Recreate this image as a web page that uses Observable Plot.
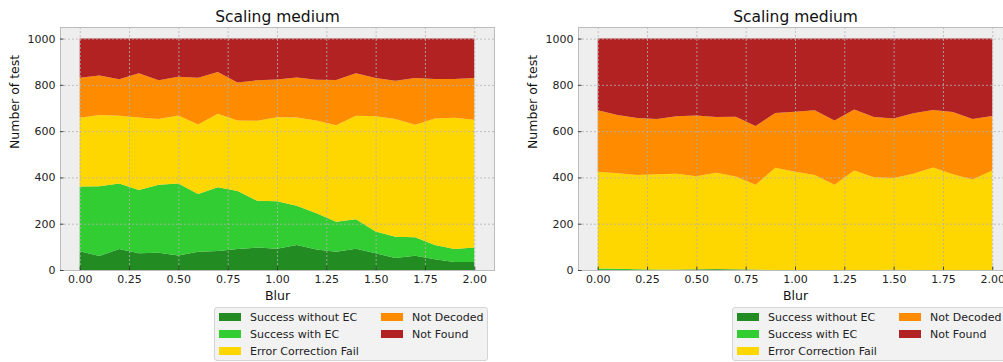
<!DOCTYPE html>
<html>
<head>
<meta charset="utf-8">
<script src="https://cdn.jsdelivr.net/npm/d3@7"></script>
<script src="https://cdn.jsdelivr.net/npm/@observablehq/plot@0.6"></script>
<style>
  html, body { margin: 0; padding: 0; background: #fff; width: 1003px; height: 362px; overflow: hidden; font-family: "DejaVu Sans", sans-serif; }
  #fig { position: relative; width: 1003px; height: 362px; overflow: hidden; }
  .panel { position: absolute; top: 0; }
  .legend { position: absolute; top: 307px; width: 274px; height: 54px; box-sizing: border-box;
            background: #f2f2f2; border: 1px solid #d4d4d4; border-radius: 3px; font-size: 11px; color: #222; }
  .item { position: absolute; display: flex; align-items: center; height: 14px; white-space: nowrap; }
  .swatch { width: 22px; height: 8px; margin-right: 9px; flex: none; }
</style>
</head>
<body>
<div id="fig"></div>
<script>
// Blur levels tested
const blur = [0.0, 0.1, 0.2, 0.3, 0.4, 0.5, 0.6, 0.7, 0.8, 0.9, 1.0,
              1.1, 1.2, 1.3, 1.4, 1.5, 1.6, 1.7, 1.8, 1.9, 2.0];

// Outcome categories, stacked bottom to top
const outcomes = ["Success without EC", "Success with EC", "Error Correction Fail", "Not Decoded", "Not Found"];
const outcomeColors = ["#228b22", "#32cd32", "#ffd700", "#ff8c00", "#b22222"];

// Axis ticks
const xTicks = [0, 0.25, 0.5, 0.75, 1.0, 1.25, 1.5, 1.75, 2.0];
const yTicks = [0, 200, 400, 600, 800, 1000];

const chartTitle = "Scaling medium";
const xLabel = "Blur";
const yLabel = "Number of test";

// Left run: counts per outcome (1000 tests per blur level)
const leftSuccessNoEC = [81, 61, 91, 72, 75, 63, 79, 82, 91, 97, 92, 108, 89, 79, 92, 72, 52, 62, 46, 35, 35];
const leftSuccessEC   = [280, 301, 283, 274, 293, 311, 249, 276, 250, 202, 205, 170, 156, 130, 127, 94, 92, 79, 62, 56, 62];
const leftECFail      = [297, 308, 293, 313, 284, 294, 301, 317, 305, 346, 363, 381, 401, 416, 448, 498, 508, 487, 547, 567, 552];
const leftNotDecoded  = [173, 170, 157, 191, 168, 167, 202, 181, 164, 175, 163, 173, 176, 196, 183, 166, 166, 202, 170, 167, 181];
const leftNotFound    = [169, 160, 176, 150, 180, 165, 169, 144, 190, 180, 177, 168, 178, 179, 150, 170, 182, 170, 175, 175, 170];

// Right run
const rightSuccessNoEC = [0, 0, 0, 0, 1, 2, 3, 2, 1, 0, 0, 0, 0, 0, 0, 1, 0, 0, 0, 0, 0];
const rightSuccessEC   = [6, 5, 3, 2, 1, 1, 1, 1, 1, 0, 0, 0, 0, 0, 0, 0, 0, 0, 0, 0, 0];
const rightECFail      = [418, 413, 408, 412, 414, 402, 416, 401, 366, 442, 425, 411, 368, 430, 401, 397, 416, 443, 414, 391, 430];
const rightNotDecoded  = [266, 252, 246, 238, 248, 263, 241, 258, 254, 236, 259, 279, 278, 264, 260, 257, 261, 248, 269, 261, 235];
const rightNotFound    = [310, 330, 343, 348, 336, 332, 339, 338, 378, 322, 316, 310, 354, 306, 339, 345, 323, 309, 317, 348, 335];

function toRows(seriesList) {
  const rows = [];
  seriesList.forEach((values, s) => {
    values.forEach((v, i) => rows.push({blur: blur[i], outcome: outcomes[s], count: v}));
  });
  return rows;
}

function panel(rows) {
  return Plot.plot({
    width: 500,
    height: 305,
    marginLeft: 60,
    marginRight: 6,
    marginTop: 27,
    marginBottom: 35,
    style: {fontFamily: "DejaVu Sans, sans-serif", fontSize: "11px", color: "#222", background: "transparent", overflow: "visible"},
    x: {domain: [-0.1, 2.1], label: null},
    y: {domain: [0, 1050], label: null},
    color: {domain: outcomes, range: outcomeColors},
    marks: [
      Plot.frame({fill: "#eeeeee", stroke: null}),
      Plot.areaY(rows, {x: "blur", y: "count", fill: "outcome", order: outcomes, curve: "linear"}),
      Plot.gridX(xTicks, {stroke: "#b2b2b2", strokeOpacity: 1, strokeWidth: 0.8, strokeDasharray: "2,2"}),
      Plot.gridY(yTicks, {stroke: "#b2b2b2", strokeOpacity: 1, strokeWidth: 0.8, strokeDasharray: "2,2"}),
      Plot.frame({stroke: "#bcbcbc", strokeWidth: 1}),
      Plot.ruleX(xTicks, {x: d => d, y1: 0, y2: 15, stroke: "#222", strokeWidth: 0.8}),
      Plot.ruleY(yTicks, {y: d => d, x1: -0.1, x2: -0.082, stroke: "#222", strokeWidth: 0.8}),
      Plot.axisX(xTicks, {tickSize: 0, tickPadding: 5, tickFormat: d => d.toFixed(2), label: null, fill: "#222", fontSize: 11}),
      Plot.axisY(yTicks, {tickSize: 0, tickPadding: 5, tickFormat: d => String(d), label: null, fill: "#222", fontSize: 11}),
      Plot.text([chartTitle], {frameAnchor: "top", dy: -17, fontSize: 15.5, fill: "#111"}),
      Plot.text([xLabel], {frameAnchor: "bottom", dy: 29, fontSize: 12.5, fill: "#111"}),
      Plot.text([yLabel], {frameAnchor: "left", dx: -46, rotate: -90, fontSize: 12.5, fill: "#111"})
    ]
  });
}

function legend(left) {
  const box = document.createElement("div");
  box.className = "legend";
  box.style.left = left + "px";
  const layout = [[4, 2], [4, 19], [4, 36], [166, 2], [166, 19]];
  outcomes.forEach((name, i) => {
    const item = document.createElement("div");
    item.className = "item";
    item.style.left = layout[i][0] + "px";
    item.style.top = layout[i][1] + "px";
    const sw = document.createElement("span");
    sw.className = "swatch";
    sw.style.background = outcomeColors[i];
    const label = document.createElement("span");
    label.textContent = name;
    item.append(sw, label);
    box.append(item);
  });
  return box;
}

const fig = document.getElementById("fig");

const leftChart = panel(toRows([leftSuccessNoEC, leftSuccessEC, leftECFail, leftNotDecoded, leftNotFound]));
leftChart.classList.add("panel");
leftChart.style.left = "0px";
fig.append(leftChart);

const rightChart = panel(toRows([rightSuccessNoEC, rightSuccessEC, rightECFail, rightNotDecoded, rightNotFound]));
rightChart.classList.add("panel");
rightChart.style.left = "518px";
fig.append(rightChart);

fig.append(legend(214));
fig.append(legend(732));
</script>
</body>
</html>
